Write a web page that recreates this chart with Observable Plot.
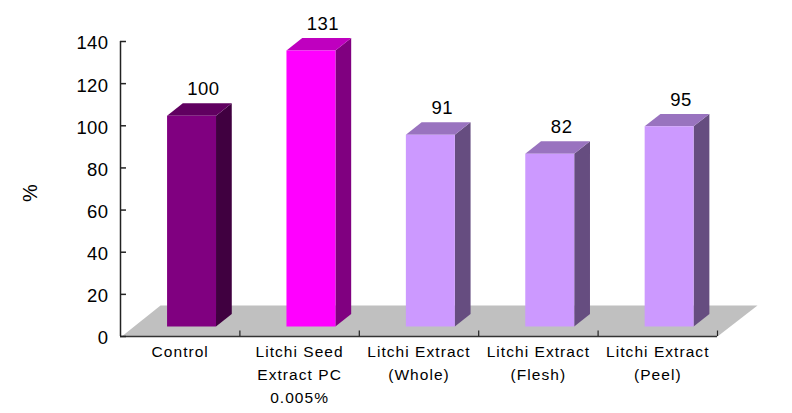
<!DOCTYPE html>
<html><head><meta charset="utf-8">
<script src="https://cdn.jsdelivr.net/npm/d3@7"></script>
<script src="https://cdn.jsdelivr.net/npm/@observablehq/plot@0.6"></script>
<style>html,body{margin:0;padding:0;background:#fff}svg{display:block}
.cat{letter-spacing:1.05px}.val{letter-spacing:.5px}.tick{letter-spacing:.4px}</style>
</head><body><div id="chart"></div>
<script>
const categories = ["Control", "Litchi Seed\nExtract PC\n0.005%", "Litchi Extract\n(Whole)", "Litchi Extract\n(Flesh)", "Litchi Extract\n(Peel)"];
const values = [100, 131, 91, 82, 95];
const frontColors = ["#800080", "#ff00ff", "#cc99ff", "#cc99ff", "#cc99ff"];
const sideColors = ["#400040", "#800080", "#664d80", "#664d80", "#664d80"];
const topColors = ["#600060", "#bf00bf", "#9973bf", "#9973bf", "#9973bf"];
const yTicks = [0, 20, 40, 60, 80, 100, 120, 140];
const xTicks = [0, 1, 2, 3, 4, 5];
const yLabel = "%";

// Oblique-projection constants, in data units (slots on x, percent on y)
const baseY = 4.75, depthX = 0.132, depthY = 5.9;
const barL = 0.39, barR = 0.8;
const floorDepthX = 0.335, floorDepthY = 14.7;

const poly = [];
const add = (id, fill, pts) => pts.forEach(([x, y]) => poly.push({id, fill, x, y}));
add("floor", "#c0c0c0", [[0.01, 0], [5, 0], [5 + floorDepthX, floorDepthY], [floorDepthX, floorDepthY]]);
values.forEach((v, i) => {
  const l = i + barL, r = i + barR, b = baseY, t = baseY + v;
  add("side" + i, sideColors[i], [[r, b], [r + depthX, b + depthY], [r + depthX, t + depthY], [r, t]]);
  add("top" + i, topColors[i], [[l, t], [r, t], [r + depthX, t + depthY], [l + depthX, t + depthY]]);
  add("front" + i, frontColors[i], [[l, b], [r, b], [r, t], [l, t]]);
});
const font = "'Liberation Sans', Arial, sans-serif";

const chart = Plot.plot({
  width: 792, height: 413,
  marginLeft: 120, marginRight: 75, marginTop: 41, marginBottom: 77,
  style: {fontFamily: font, background: "#fff"},
  x: {type: "linear", domain: [0, 5], axis: null},
  y: {domain: [0, 140], axis: null},
  color: {type: "identity"},
  marks: [
    Plot.line(poly, {x: "x", y: "y", z: "id", fill: "fill", stroke: "none"}),
    Plot.ruleY([0], {x1: 0, x2: 5, stroke: "#333", strokeWidth: 1.5}),
    Plot.ruleX([0], {y1: 0, y2: 140, stroke: "#222", strokeWidth: 1.5}),
    Plot.ruleY(yTicks, {x1: 0, x2: 0.05, stroke: "#222", strokeWidth: 1.5}),
    Plot.ruleX(xTicks.slice(1), {y1: 0, y2: 2.6, stroke: "#222", strokeWidth: 1.2}),
    Plot.text(yTicks, {x: 0, y: d => d, text: d => String(d), textAnchor: "end", dx: -12, dy: 2, fontSize: 18.5, fill: "#000", className: "tick"}),
    Plot.text(values, {x: (d, i) => i + (barL + barR + depthX) / 2, y: d => d + baseY + depthY, text: d => String(d), dx: 4, dy: -14, fontSize: 18.5, fill: "#000", className: "val"}),
    Plot.text(categories, {x: (d, i) => i + 0.5, y: 0, text: d => d, frameAnchor: "bottom", lineAnchor: "top", dy: 4, fontSize: 15.5, lineHeight: 1.48, fill: "#000", className: "cat"}),
    Plot.text([yLabel], {x: 0, y: 68, text: d => d, rotate: -90, dx: -90, fontSize: 20, fill: "#000"})
  ]
});
document.getElementById("chart").append(chart);
</script></body></html>
